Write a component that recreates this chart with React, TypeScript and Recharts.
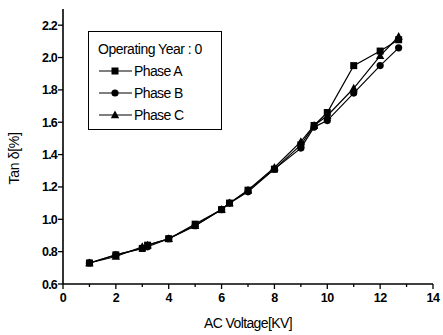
import React from 'react';
import { LineChart, Line, XAxis, YAxis, Legend } from 'recharts';

const voltages = [1, 2, 3, 3.2, 4, 5, 6, 6.3, 7, 8, 9, 9.5, 10, 11, 12, 12.7];
const phaseA = [0.73, 0.78, 0.82, 0.84, 0.88, 0.97, 1.06, 1.1, 1.18, 1.31, 1.46, 1.58, 1.66, 1.95, 2.04, 2.11];
const phaseB = [0.73, 0.78, 0.82, 0.83, 0.88, 0.96, 1.06, 1.1, 1.17, 1.31, 1.44, 1.57, 1.61, 1.78, 1.95, 2.06];
const phaseC = [0.73, 0.77, 0.83, 0.84, 0.88, 0.96, 1.06, 1.1, 1.18, 1.32, 1.48, 1.58, 1.64, 1.81, 2.01, 2.13];

const xTicks = [0, 1, 2, 3, 4, 5, 6, 7, 8, 9, 10, 11, 12, 13, 14];
const yTicks = [0.6, 0.8, 1.0, 1.2, 1.4, 1.6, 1.8, 2.0, 2.2];
const seriesNames = ['Phase A', 'Phase B', 'Phase C'];
const legendTitle = 'Operating Year : 0';
const xTitle = 'AC Voltage[KV]';
const yTitle = 'Tan δ[%]';

const data = voltages.map((x, i) => ({ x, A: phaseA[i], B: phaseB[i], C: phaseC[i] }));

const FONT = 'Arial, "Liberation Sans", Helvetica, sans-serif';

type Shape = 'square' | 'circle' | 'triangle';

const Marker = ({ cx, cy, shape }: { cx: number; cy: number; shape: Shape }) => {
  if (cx == null || cy == null) return null;
  if (shape === 'square') return <rect x={cx - 3.5} y={cy - 3.5} width={7} height={7} fill="#000" />;
  if (shape === 'circle') return <circle cx={cx} cy={cy} r={3.6} fill="#000" />;
  return <path d={`M${cx},${cy - 4.5} L${cx + 4.2},${cy + 3.2} L${cx - 4.2},${cy + 3.2} Z`} fill="#000" />;
};

const makeDot = (shape: Shape) => (props: any) => (
  <Marker key={`${shape}-${props.index}`} cx={props.cx} cy={props.cy} shape={shape} />
);

const XTick = (props: any) => {
  const { x, y, payload } = props;
  const v = payload.value;
  const major = v % 2 === 0;
  return (
    <g>
      <line x1={x} y1={y} x2={x} y2={y + (major ? 5 : 3)} stroke="#000" strokeWidth={1.3} />
      {major && (
        <text x={x} y={y + 18} textAnchor="middle" fontSize={12.5} fontFamily={FONT} fontWeight={600} fill="#000" letterSpacing={-0.5}>
          {v}
        </text>
      )}
    </g>
  );
};

const YTick = (props: any) => {
  const { x, y, payload } = props;
  return (
    <g>
      <line x1={x - 5} y1={y} x2={x} y2={y} stroke="#000" strokeWidth={1.3} />
      <text x={x - 6} y={y + 4.5} textAnchor="end" fontSize={12.5} fontFamily={FONT} fontWeight={600} fill="#000" letterSpacing={-0.8}>
        {Number(payload.value).toFixed(1)}
      </text>
    </g>
  );
};

const YTitle = (props: any) => {
  const vb = props.viewBox || { x: 0, y: 0, width: 0, height: 0 };
  const cx = 19;
  const cy = vb.y + vb.height / 2 + 12;
  return (
    <text transform={`translate(${cx},${cy}) rotate(-90)`} textAnchor="middle" fontSize={14} fontFamily={FONT} fill="#000" letterSpacing={-0.3}>
      {yTitle}
    </text>
  );
};

const shapes: Shape[] = ['square', 'circle', 'triangle'];

const LegendBox = () => (
  <svg width={134} height={99} style={{ display: 'block' }}>
    <rect x={0.5} y={0.5} width={133} height={98} fill="#fff" stroke="#000" strokeWidth={1} />
    <text x={10} y={23} fontSize={14} fontFamily={FONT} letterSpacing={-0.5} fill="#000">
      {legendTitle}
    </text>
    {seriesNames.map((name, i) => {
      const cy = 40 + i * 22;
      return (
        <g key={name}>
          <line x1={11} y1={cy} x2={44} y2={cy} stroke="#000" strokeWidth={1.2} />
          <Marker cx={27} cy={cy} shape={shapes[i]} />
          <text x={46} y={cy + 5} fontSize={14} fontFamily={FONT} letterSpacing={-0.6} fill="#000">
            {name}
          </text>
        </g>
      );
    })}
  </svg>
);

export default function App() {
  return (
    <div style={{ position: 'absolute', left: 0, top: 0, width: 443, height: 335, background: '#fff' }}>
      <LineChart width={443} height={335} data={data} margin={{ top: 9, right: 10, bottom: 0, left: 0 }}>
        <XAxis
          type="number"
          dataKey="x"
          domain={[0, 14]}
          ticks={xTicks}
          interval={0}
          height={51}
          tickSize={0}
          tickMargin={0}
          tickLine={false}
          tick={<XTick />}
          axisLine={{ stroke: '#000', strokeWidth: 1.6 }}
          label={{ value: xTitle, position: 'insideBottom', offset: 7, fontSize: 14, fontFamily: FONT, fill: '#000', letterSpacing: -0.6 } as any}
        />
        <YAxis
          type="number"
          domain={[0.6, 2.3]}
          ticks={yTicks}
          interval={0}
          width={63}
          tickSize={0}
          tickMargin={0}
          tickLine={false}
          tick={<YTick />}
          axisLine={{ stroke: '#000', strokeWidth: 1.6 }}
          label={{ content: <YTitle /> } as any}
        />
        <Legend
          layout="vertical"
          align="center"
          verticalAlign="middle"
          content={() => <LegendBox />}
          wrapperStyle={{ left: 88, top: 31, width: 134, height: 99 }}
        />
        <Line dataKey="A" stroke="#000" strokeWidth={1.2} dot={makeDot('square')} isAnimationActive={false} />
        <Line dataKey="B" stroke="#000" strokeWidth={1.2} dot={makeDot('circle')} isAnimationActive={false} />
        <Line dataKey="C" stroke="#000" strokeWidth={1.2} dot={makeDot('triangle')} isAnimationActive={false} />
      </LineChart>
    </div>
  );
}
